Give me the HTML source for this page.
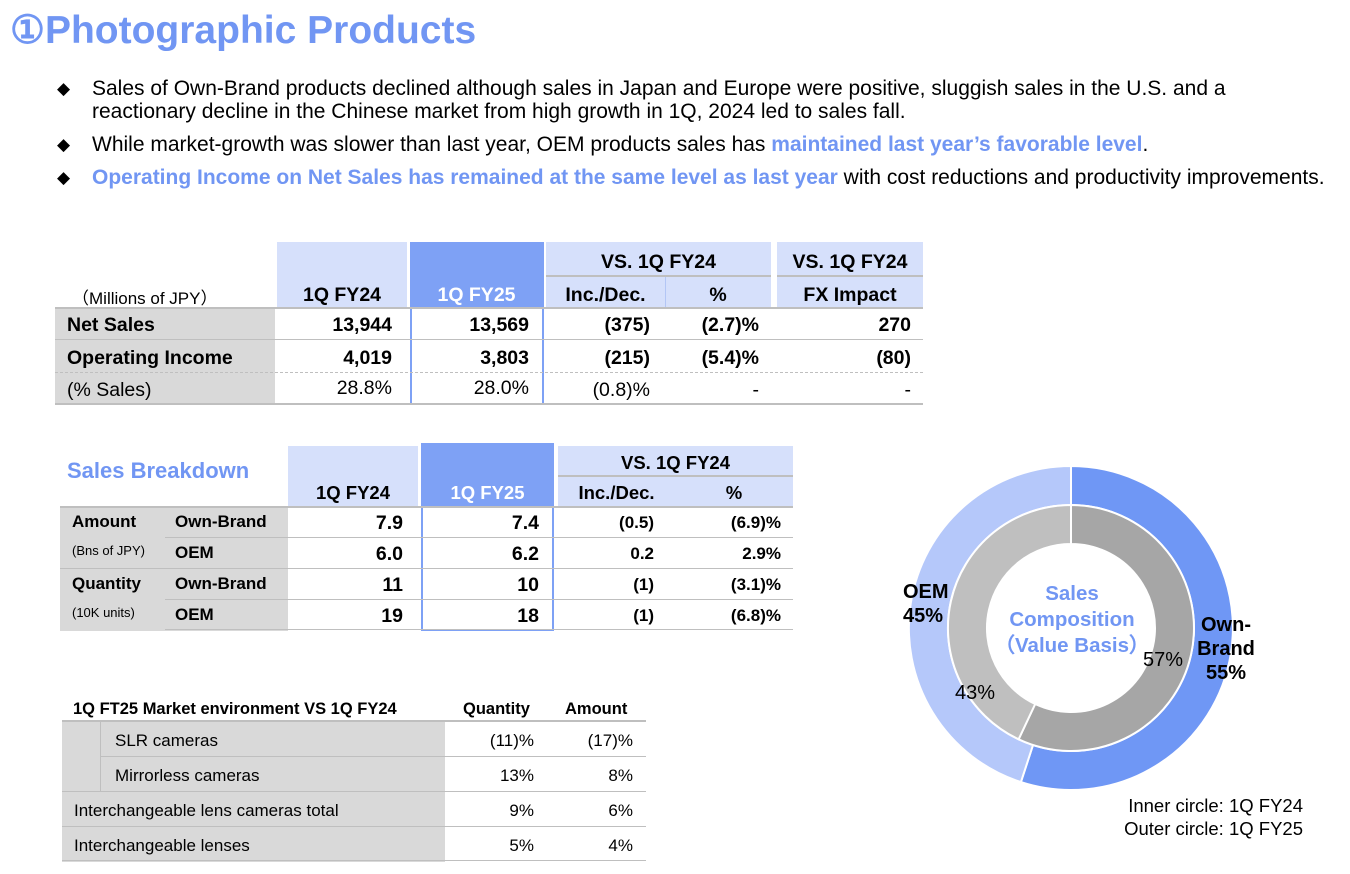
<!DOCTYPE html>
<html><head><meta charset="utf-8">
<style>
*{margin:0;padding:0;box-sizing:border-box}
body{width:1350px;height:874px;background:#fff;position:relative;overflow:hidden;font-family:"Liberation Sans",Arial,sans-serif;color:#000}
.a{position:absolute;white-space:nowrap}
.title{left:10px;top:8px;font-size:39px;font-weight:bold;color:#7196f3}
.bl{font-size:21px;line-height:23px}
.bl .d{position:absolute;left:-35px;top:0;font-size:17px}
.hl{color:#7196f3;font-weight:bold}
.c{position:absolute;font-size:19.5px;white-space:nowrap}
.b{font-weight:bold}
.r{text-align:right}
.ctr{text-align:center}
.box{position:absolute}
.ln{position:absolute;height:0;border-top:2px solid #bfbfbf}
.dl{position:absolute;height:0;border-top:1.5px dashed #bfbfbf}
</style></head><body>
<div class="a title">①Photographic Products</div>
<div class="a bl" style="left:92px;top:77px"><span class="d">◆</span>Sales of Own-Brand products declined although sales in Japan and Europe were positive, sluggish sales in the U.S. and a<br>reactionary decline in the Chinese market from high growth in 1Q, 2024 led to sales fall.</div>
<div class="a bl" style="left:92px;top:133px"><span class="d">◆</span>While market-growth was slower than last year, OEM products sales has <span class="hl">maintained last year’s favorable level</span>.</div>
<div class="a bl" style="left:92px;top:166px"><span class="d">◆</span><span class="hl">Operating Income on Net Sales has remained at the same level as last year</span> with cost reductions and productivity improvements.</div>

<!-- Table 1 -->
<div class="box" style="left:55px;top:308px;width:220px;height:97px;background:#d9d9d9"></div>
<div class="box" style="left:277px;top:242px;width:130px;height:66px;background:#d6e0fb"></div>
<div class="box" style="left:410px;top:242px;width:133px;height:66px;background:#7ea1f5"></div>
<div class="box" style="left:410px;top:242px;width:134px;height:163px;border:2px solid #7ea1f5"></div>
<div class="box" style="left:546px;top:242px;width:225px;height:66px;background:#d6e0fb"></div>
<div class="box" style="left:777px;top:242px;width:146px;height:66px;background:#d6e0fb"></div>
<div class="box" style="left:665px;top:277px;width:1px;height:31px;background:#b3c6f5"></div>
<div class="ln" style="left:546px;top:275px;width:225px"></div>
<div class="ln" style="left:777px;top:275px;width:146px"></div>
<div class="ln" style="left:55px;top:307px;width:868px"></div>
<div class="ln" style="left:55px;top:339px;width:868px;border-top-width:1.5px"></div>
<div class="dl" style="left:55px;top:372px;width:868px"></div>
<div class="ln" style="left:55px;top:403px;width:868px"></div>
<div class="c" style="left:72px;top:284px;font-size:17px">（Millions of JPY）</div>
<div class="c b ctr" style="left:277px;top:284px;width:130px">1Q FY24</div>
<div class="c b ctr" style="left:410px;top:284px;width:133px;color:#fff">1Q FY25</div>
<div class="c b ctr" style="left:546px;top:251px;width:225px">VS. 1Q FY24</div>
<div class="c b ctr" style="left:777px;top:251px;width:146px">VS. 1Q FY24</div>
<div class="c b ctr" style="left:546px;top:284px;width:119px">Inc./Dec.</div>
<div class="c b ctr" style="left:665px;top:284px;width:106px">%</div>
<div class="c b ctr" style="left:777px;top:284px;width:146px">FX Impact</div>
<div class="c b" style="left:67px;top:314px">Net Sales</div>
<div class="c b" style="left:67px;top:347px">Operating Income</div>
<div class="c" style="left:67px;top:379px">(% Sales)</div>
<div class="c b r" style="left:277px;top:314px;width:115px">13,944</div>
<div class="c b r" style="left:277px;top:347px;width:115px">4,019</div>
<div class="c r" style="left:277px;top:377px;width:115px">28.8%</div>
<div class="c b r" style="left:410px;top:314px;width:119px">13,569</div>
<div class="c b r" style="left:410px;top:347px;width:119px">3,803</div>
<div class="c r" style="left:410px;top:377px;width:119px">28.0%</div>
<div class="c b r" style="left:546px;top:314px;width:104px">(375)</div>
<div class="c b r" style="left:546px;top:347px;width:104px">(215)</div>
<div class="c r" style="left:546px;top:379px;width:104px">(0.8)%</div>
<div class="c b r" style="left:665px;top:314px;width:94px">(2.7)%</div>
<div class="c b r" style="left:665px;top:347px;width:94px">(5.4)%</div>
<div class="c r" style="left:665px;top:379px;width:94px">-</div>
<div class="c b r" style="left:777px;top:314px;width:134px">270</div>
<div class="c b r" style="left:777px;top:347px;width:134px">(80)</div>
<div class="c r" style="left:777px;top:379px;width:134px">-</div>

<!-- Table 2 -->
<div class="c b" style="left:67px;top:458px;font-size:22px;color:#7196f3">Sales Breakdown</div>
<div class="box" style="left:60px;top:507px;width:228px;height:124px;background:#d9d9d9"></div>
<div class="box" style="left:288px;top:446px;width:130px;height:61px;background:#d6e0fb"></div>
<div class="box" style="left:422px;top:443px;width:131px;height:64px;background:#7ea1f5"></div>
<div class="box" style="left:421px;top:443px;width:133px;height:188px;border:2px solid #7ea1f5"></div>
<div class="box" style="left:558px;top:446px;width:235px;height:61px;background:#d6e0fb"></div>
<div class="ln" style="left:558px;top:475px;width:235px"></div>
<div class="ln" style="left:60px;top:506px;width:733px"></div>
<div class="ln" style="left:165px;top:537px;width:628px;border-top-width:1.5px"></div>
<div class="ln" style="left:60px;top:568px;width:733px;border-top-width:1.5px"></div>
<div class="ln" style="left:165px;top:599px;width:628px;border-top-width:1.5px"></div>
<div class="ln" style="left:165px;top:629px;width:628px;border-top-width:1.5px"></div>
<div class="c b ctr" style="left:288px;top:482px;width:130px;font-size:18.5px">1Q FY24</div>
<div class="c b ctr" style="left:422px;top:482px;width:131px;color:#fff;font-size:18.5px">1Q FY25</div>
<div class="c b ctr" style="left:558px;top:452px;width:235px;font-size:18.5px">VS. 1Q FY24</div>
<div class="c b ctr" style="left:558px;top:482px;width:117px;font-size:18.5px">Inc./Dec.</div>
<div class="c b ctr" style="left:675px;top:482px;width:118px;font-size:18.5px">%</div>
<div class="c b" style="left:72px;top:512px;font-size:17px">Amount</div>
<div class="c" style="left:72px;top:543px;font-size:13px">(Bns of JPY)</div>
<div class="c b" style="left:72px;top:574px;font-size:17px">Quantity</div>
<div class="c" style="left:72px;top:605px;font-size:13px">(10K units)</div>
<div class="c b" style="left:175px;top:512px;font-size:17px">Own-Brand</div>
<div class="c b" style="left:175px;top:543px;font-size:17px">OEM</div>
<div class="c b" style="left:175px;top:574px;font-size:17px">Own-Brand</div>
<div class="c b" style="left:175px;top:605px;font-size:17px">OEM</div>
<div class="c b r" style="left:288px;top:512px;width:115px">7.9</div>
<div class="c b r" style="left:288px;top:543px;width:115px">6.0</div>
<div class="c b r" style="left:288px;top:574px;width:115px">11</div>
<div class="c b r" style="left:288px;top:605px;width:115px">19</div>
<div class="c b r" style="left:422px;top:512px;width:117px">7.4</div>
<div class="c b r" style="left:422px;top:543px;width:117px">6.2</div>
<div class="c b r" style="left:422px;top:574px;width:117px">10</div>
<div class="c b r" style="left:422px;top:605px;width:117px">18</div>
<div class="c b r" style="left:558px;top:513px;width:96px;font-size:17px">(0.5)</div>
<div class="c b r" style="left:558px;top:544px;width:96px;font-size:17px">0.2</div>
<div class="c b r" style="left:558px;top:575px;width:96px;font-size:17px">(1)</div>
<div class="c b r" style="left:558px;top:606px;width:96px;font-size:17px">(1)</div>
<div class="c b r" style="left:675px;top:513px;width:106px;font-size:17px">(6.9)%</div>
<div class="c b r" style="left:675px;top:544px;width:106px;font-size:17px">2.9%</div>
<div class="c b r" style="left:675px;top:575px;width:106px;font-size:17px">(3.1)%</div>
<div class="c b r" style="left:675px;top:606px;width:106px;font-size:17px">(6.8)%</div>

<!-- Table 3 -->
<div class="box" style="left:62px;top:722px;width:383px;height:140px;background:#d9d9d9"></div>
<div class="box" style="left:100px;top:722px;width:1px;height:70px;background:#bfbfbf"></div>
<div class="ln" style="left:62px;top:720px;width:584px"></div>
<div class="ln" style="left:100px;top:756px;width:546px;border-top-width:1.5px"></div>
<div class="ln" style="left:62px;top:791px;width:584px;border-top-width:1.5px"></div>
<div class="ln" style="left:62px;top:826px;width:584px;border-top-width:1.5px"></div>
<div class="ln" style="left:62px;top:860px;width:584px;border-top-width:1.5px"></div>
<div class="c b" style="left:73px;top:700px;font-size:16.5px">1Q FT25 Market environment VS 1Q FY24</div>
<div class="c b" style="left:463px;top:700px;font-size:16.5px">Quantity</div>
<div class="c b" style="left:565px;top:700px;font-size:16.5px">Amount</div>
<div class="c" style="left:115px;top:731px;font-size:17px">SLR cameras</div>
<div class="c" style="left:115px;top:766px;font-size:17px">Mirrorless cameras</div>
<div class="c" style="left:74px;top:801px;font-size:17px">Interchangeable lens cameras total</div>
<div class="c" style="left:74px;top:836px;font-size:17px">Interchangeable lenses</div>
<div class="c r" style="left:450px;top:731px;width:84px;font-size:17px">(11)%</div>
<div class="c r" style="left:450px;top:766px;width:84px;font-size:17px">13%</div>
<div class="c r" style="left:450px;top:801px;width:84px;font-size:17px">9%</div>
<div class="c r" style="left:450px;top:836px;width:84px;font-size:17px">5%</div>
<div class="c r" style="left:545px;top:731px;width:88px;font-size:17px">(17)%</div>
<div class="c r" style="left:545px;top:766px;width:88px;font-size:17px">8%</div>
<div class="c r" style="left:545px;top:801px;width:88px;font-size:17px">6%</div>
<div class="c r" style="left:545px;top:836px;width:88px;font-size:17px">4%</div>

<!-- Donut -->
<svg class="box" style="left:0;top:0" width="1350" height="874">
<g stroke="#fff" stroke-width="2">
<path d="M1071 466 A162 162 0 1 1 1020.9 782.1 L1033 745 A123 123 0 1 0 1071 505 Z" fill="#6f97f5"/>
<path d="M1020.9 782.1 A162 162 0 0 1 1071 466 L1071 505 A123 123 0 0 0 1033 745 Z" fill="#b5c8fa"/>
<path d="M1071 505 A123 123 0 1 1 1018.6 739.3 L1035.2 704 A84 84 0 1 0 1071 544 Z" fill="#a6a6a6"/>
<path d="M1018.6 739.3 A123 123 0 0 1 1071 505 L1071 544 A84 84 0 0 0 1035.2 704 Z" fill="#bfbfbf"/>
</g>
</svg>
<div class="c b ctr" style="left:991px;top:581px;width:162px;font-size:20.5px;line-height:26px;color:#7196f3">Sales<br>Composition<br>（Value Basis）</div>
<div class="c ctr" style="left:1143px;top:649px;font-size:20px">57%</div>
<div class="c" style="left:955px;top:682px;font-size:20px">43%</div>
<div class="c b" style="left:903px;top:580px;font-size:20px;line-height:24px">OEM<br>45%</div>
<div class="c b ctr" style="left:1184px;top:613px;width:84px;font-size:20px;line-height:24px">Own-<br>Brand<br>55%</div>
<div class="c r" style="left:1060px;top:794px;width:243px;font-size:18.5px;line-height:23px">Inner circle: 1Q FY24<br>Outer circle: 1Q FY25</div>
</body></html>
